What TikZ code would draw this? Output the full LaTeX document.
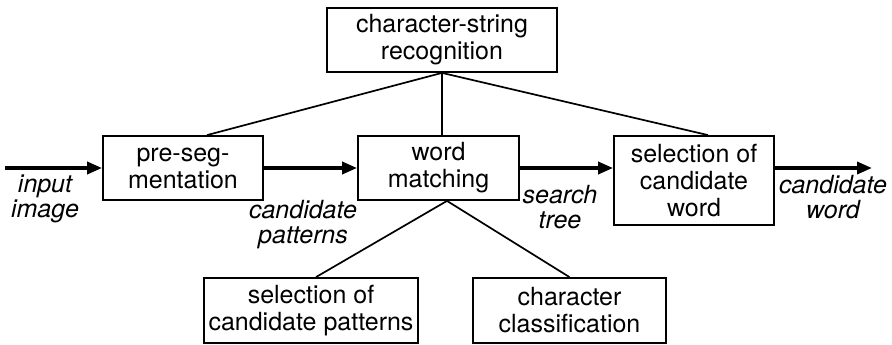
\documentclass[tikz,border=0pt]{standalone}
\usepackage{fontspec}
\setmainfont{TeX Gyre Heros}
\usetikzlibrary{arrows.meta}

\begin{document}
\begin{tikzpicture}[x=1pt,y=-1pt,
	proc/.style={draw,line width=1.8pt,inner sep=0pt,align=center,font=\fontsize{25}{27}\selectfont},
	flowtext/.style={align=center,font=\fontsize{25}{25}\selectfont\itshape},
	link/.style={line width=1.7pt},
	mainflow/.style={line width=3.5pt,-{Triangle[length=15pt,width=12pt]}}]

\useasboundingbox (0,0) rectangle (892,345);

\node [proc,minimum width=230pt,minimum height=64pt] (csr) at (442,40) {character-string\\recognition};
\node [proc,minimum width=160pt,minimum height=64pt] (preseg) at (183,168) {pre-seg-\\mentation};
\node [proc,minimum width=161pt,minimum height=64pt] (match) at (438.5,168) {word\\matching};
\node [proc,minimum width=160pt,minimum height=89pt] (selword) at (694,180.5) {selection of\\candidate\\word};
\node [proc,minimum width=214pt,minimum height=65pt] (selpat) at (311,310.5) {selection of\\candidate patterns};
\node [proc,minimum width=193pt,minimum height=65pt] (charcl) at (569.5,310.5) {character\\classification};

\coordinate (src) at (5,168);
\coordinate (dst) at (872,168);

\draw [mainflow] (src) -- (preseg.west);
\draw [mainflow] (preseg.east) -- (match.west);
\draw [mainflow] (match.east) -- (match.east -| selword.west);
\draw [mainflow] (selword.east |- dst) -- (dst);

\draw [link] (csr.south) -- ([xshift=24pt]preseg.north);
\draw [link] (csr.south) -- (csr.south |- match.north);
\draw [link] (csr.south) -- ([xshift=14pt]selword.north);
\draw [link] ([xshift=8.5pt]match.south) -- ([xshift=5pt]selpat.north);
\draw [link] ([xshift=8.5pt]match.south) -- (charcl.north);

\node [flowtext] (inimg) at (45,199) {input\\image};
\node [flowtext] (candpat) at (303,225) {candidate\\patterns};
\node [flowtext] (stree) at (560,207) {search\\tree};
\node [flowtext] (candword) at (833,197) {candidate\\word};

\end{tikzpicture}
\end{document}
